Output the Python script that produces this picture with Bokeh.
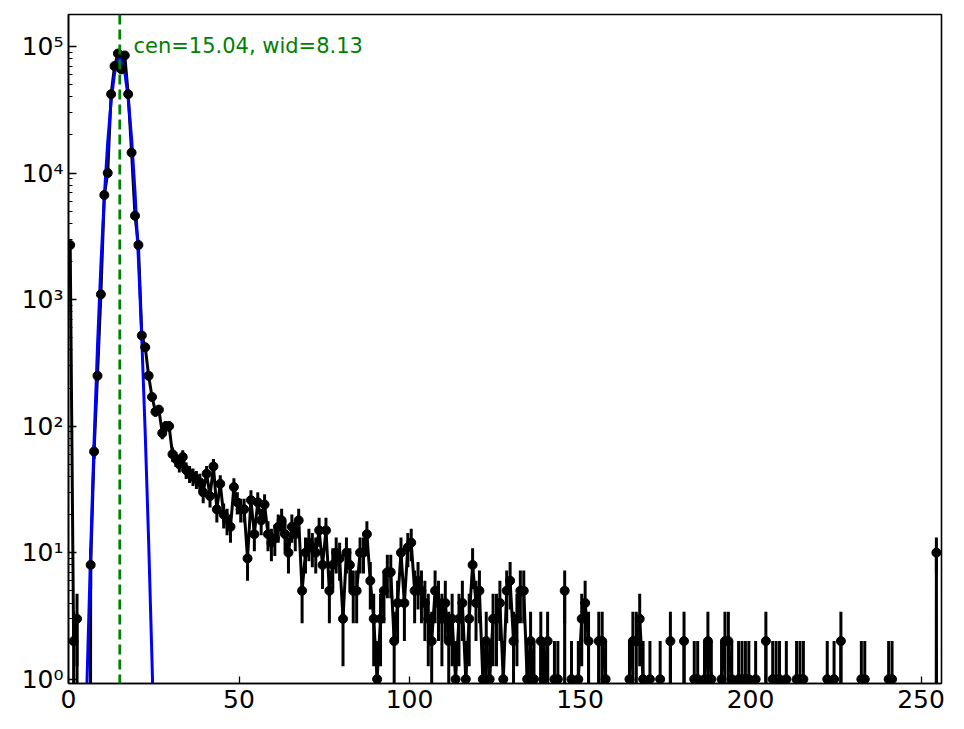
import numpy as np
from bokeh.plotting import figure
from bokeh.models import Span, Label, CustomJSTickFormatter, FixedTicker
from bokeh.embed import file_html
from bokeh.resources import INLINE

# ---- data -------------------------------------------------------------
bins = list(range(256))
counts = [
    2700, 2, 3, 0, 0, 0, 8, 63, 250, 1100, 6700, 10000, 42000, 70000, 88000, 66000,
    85000, 42000, 14500, 4600, 2700, 520, 420, 250, 170, 130, 135, 88, 100, 100, 60, 55,
    50, 57, 45, 42, 40, 38, 36, 30, 42, 28, 48, 22, 35, 20, 18, 16,
    33, 25, 22, 22, 9, 26, 14, 25, 18, 24, 14, 12, 13, 16, 18, 14,
    10, 16, 14, 18, 5, 10, 12, 11, 10, 15, 8, 15, 5, 8, 10, 9,
    3, 10, 8, 5, 5, 10, 10, 14, 6, 3, 1, 3, 5, 7, 7, 2,
    4, 10, 4, 11, 12, 5, 6, 5, 4, 3, 2, 5, 4, 3, 4, 2,
    3, 1, 3, 4, 1, 3, 8, 4, 5, 1, 2, 1, 3, 3, 4, 1,
    5, 6, 2, 3, 5, 5, 1, 2, 1, 0, 2, 1, 2, 0, 1, 1,
    0, 5, 0, 1, 0, 1, 3, 4, 2, 0, 0, 2, 2, 1, 0, 0,
    0, 0, 0, 0, 1, 2, 2, 3, 1, 0, 1, 0, 0, 1, 0, 0,
    2, 0, 0, 0, 2, 0, 0, 1, 1, 0, 1, 2, 1, 0, 0, 1,
    2, 2, 1, 0, 1, 1, 1, 1, 0, 1, 0, 0, 2, 0, 1, 1,
    1, 0, 1, 0, 0, 1, 1, 1, 0, 0, 0, 0, 0, 0, 1, 0,
    1, 0, 2, 0, 0, 0, 0, 0, 1, 1, 0, 0, 0, 0, 0, 0,
    1, 1, 0, 0, 0, 0, 0, 0, 0, 0, 0, 0, 0, 0, 10, 0,
]
cen = 15.04
wid = 8.13
amp = 82000.0
y_ticks = [1, 10, 100, 1000, 10000, 100000]
x_ticks = [0, 50, 100, 150, 200, 250]

# ---- derived ----------------------------------------------------------
x = np.array(bins) + 0.5
c = np.array(counts, dtype=float)
tiny = 1e-30
line_y = np.where(c > 0, c, tiny)
nz = c > 0
err = np.sqrt(c[nz])
lo = np.maximum(c[nz] - err, tiny)
hi = c[nz] + err
fit = np.maximum(amp * np.exp(-(x - cen) ** 2 / wid), tiny)

p = figure(width=964, height=729, y_axis_type="log",
           x_range=(0, 256), y_range=(0.925, 1.79e5),
           output_backend="svg", toolbar_location=None,
           min_border_left=68, min_border_right=23,
           min_border_top=14, min_border_bottom=46)
p.xgrid.visible = False
p.ygrid.visible = False
p.outline_line_color = "black"
p.outline_line_width = 1.6
p.background_fill_color = "white"
p.border_fill_color = "white"

# data line and error bars
p.line(x, line_y, line_color="black", line_width=3)
p.segment(x0=x[nz], y0=lo, x1=x[nz], y1=hi, line_color="black", line_width=3)
# fit
p.line(x, fit, line_color="#0000ff", line_width=3)
# markers
p.scatter(x[nz], c[nz], size=9, marker="circle", fill_color="black", line_color="black")

p.add_layout(Span(location=cen, dimension="height", line_color="#008000",
                  line_width=2.8, line_dash="10 5"))
p.add_layout(Label(x=cen + 4, y=1.0e5, text=f"cen={cen:.2f}, wid={wid:.2f}",
                   text_color="#008000", text_font="DejaVu Sans",
                   text_font_size="21px", text_baseline="alphabetic"))

# axes
for ax in (p.xaxis[0], p.yaxis[0]):
    ax.axis_line_color = "black"
    ax.axis_line_width = 1.6
    ax.major_tick_line_color = "black"
    ax.minor_tick_line_color = "black"
    ax.major_tick_line_width = 1.3
    ax.minor_tick_line_width = 1.0
    ax.major_tick_out = 0
    ax.minor_tick_out = 0
    ax.major_label_text_font = "DejaVu Sans"
    ax.major_label_text_font_size = "25px"
    ax.major_label_text_color = "black"

p.xaxis.ticker = FixedTicker(ticks=x_ticks)
p.xaxis.major_tick_in = 7
p.xaxis.major_label_standoff = 6

minor = [m * 10.0 ** e for e in range(0, 6) for m in range(2, 10)]
p.yaxis.ticker = FixedTicker(ticks=y_ticks, minor_ticks=minor)
p.yaxis.major_tick_in = 8
p.yaxis.minor_tick_in = 4
p.yaxis.major_label_standoff = 5
p.yaxis.formatter = CustomJSTickFormatter(code="""
const sup = {'0':'\u2070','1':'\u00b9','2':'\u00b2','3':'\u00b3','4':'\u2074',
             '5':'\u2075','6':'\u2076','7':'\u2077','8':'\u2078','9':'\u2079','-':'\u207b'};
const e = Math.round(Math.log10(tick));
return '10' + String(e).split('').map(ch => sup[ch]).join('');
""")

open("out.html", "w").write(file_html(p, INLINE))
